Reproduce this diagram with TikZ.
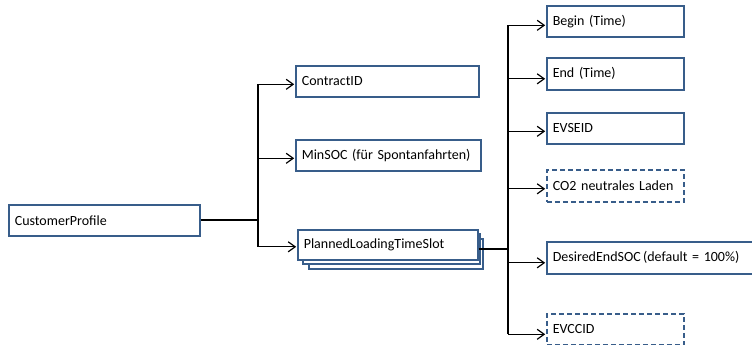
\documentclass[tikz,border=0pt]{standalone}
\usepackage{fontspec}
\setmainfont{Carlito}
\usetikzlibrary{arrows.meta}
\definecolor{boxblue}{HTML}{385D8A}
\tikzset{
 box/.style={draw=boxblue, line width=1.6pt, fill=white, inner xsep=6pt, inner ysep=0pt, minimum height=31pt, align=left, anchor=north west, font=\fontsize{14}{16}\selectfont},
 dbox/.style={box, dash pattern=on 5pt off 3pt},
 shadowbox/.style={draw=boxblue, line width=1.6pt, fill=white},
 arr/.style={-{Straight Barb[length=7pt,width=10pt,line width=1.2pt]}, line width=1.2pt, shorten >=0.8pt},
 mainline/.style={line width=2pt},
 trunkline/.style={line width=1.4pt},
}
\begin{document}
\begin{tikzpicture}[x=1pt,y=-1pt]
\useasboundingbox (0,0) rectangle (752,345);
\clip (0,0) rectangle (752,345);
% boxes
\node[box, text width=179pt] (cp) at (8,204) {CustomerProfile};
\node[box, text width=171pt] (contract) at (295,65) {ContractID};
\node[box, text width=173pt] (minsoc) at (295,139) {MinSOC (für Spontanfahrten)};
\path[shadowbox] (309,239) rectangle (483,269) coordinate (sh2);
\path[shadowbox] (303,234) rectangle (480,264) coordinate (sh1);
\node[box, text width=168pt, minimum height=30pt] (planned) at (297,229) {PlannedLoadingTimeSlot};
\node[box, text width=125pt] (begin) at (546,5) {Begin (Time)};
\node[box, text width=125pt, minimum height=32pt] (end) at (546,57) {End (Time)};
\node[box, text width=125pt] (evseid) at (546,112) {EVSEID};
\node[dbox, text width=125pt, minimum height=32pt] (co2) at (546,169) {CO2 neutrales Laden};
\node[box, text width=202pt, minimum height=32pt] (desired) at (546,241) {DesiredEndSOC\,(default = 100\%)};
\node[dbox, text width=125pt] (evccid) at (546,313) {EVCCID};
% junctions
\coordinate (jl) at (258,220);
\coordinate (jr) at (508,248);
\foreach \n/\d in {contract/3,minsoc/3,planned/2}{
  \coordinate (\n-in) at ([yshift=-\d pt]\n.west);
}
\foreach \n/\d in {begin/4,end/5,evseid/3,co2/3,desired/5,evccid/5}{
  \coordinate (\n-in) at ([yshift=-\d pt]\n.west);
}
% left tree
\draw[mainline] (cp.east |- jl) -- (jl);
\draw[trunkline] (jl |- contract-in) -- (jl |- planned-in);
\foreach \n in {contract,minsoc,planned}{
  \draw[arr] (jl |- \n-in) -- (\n-in);
}
% right tree
\coordinate (pout) at ([yshift=-4pt]planned.east);
\draw[mainline] (pout) -- (jr |- pout);
\draw[mainline] (jr |- begin-in) -- (jr |- evccid-in);
\foreach \n in {begin,end,evseid,co2,desired,evccid}{
  \draw[arr] (jr |- \n-in) -- (\n-in);
}
\end{tikzpicture}
\end{document}
